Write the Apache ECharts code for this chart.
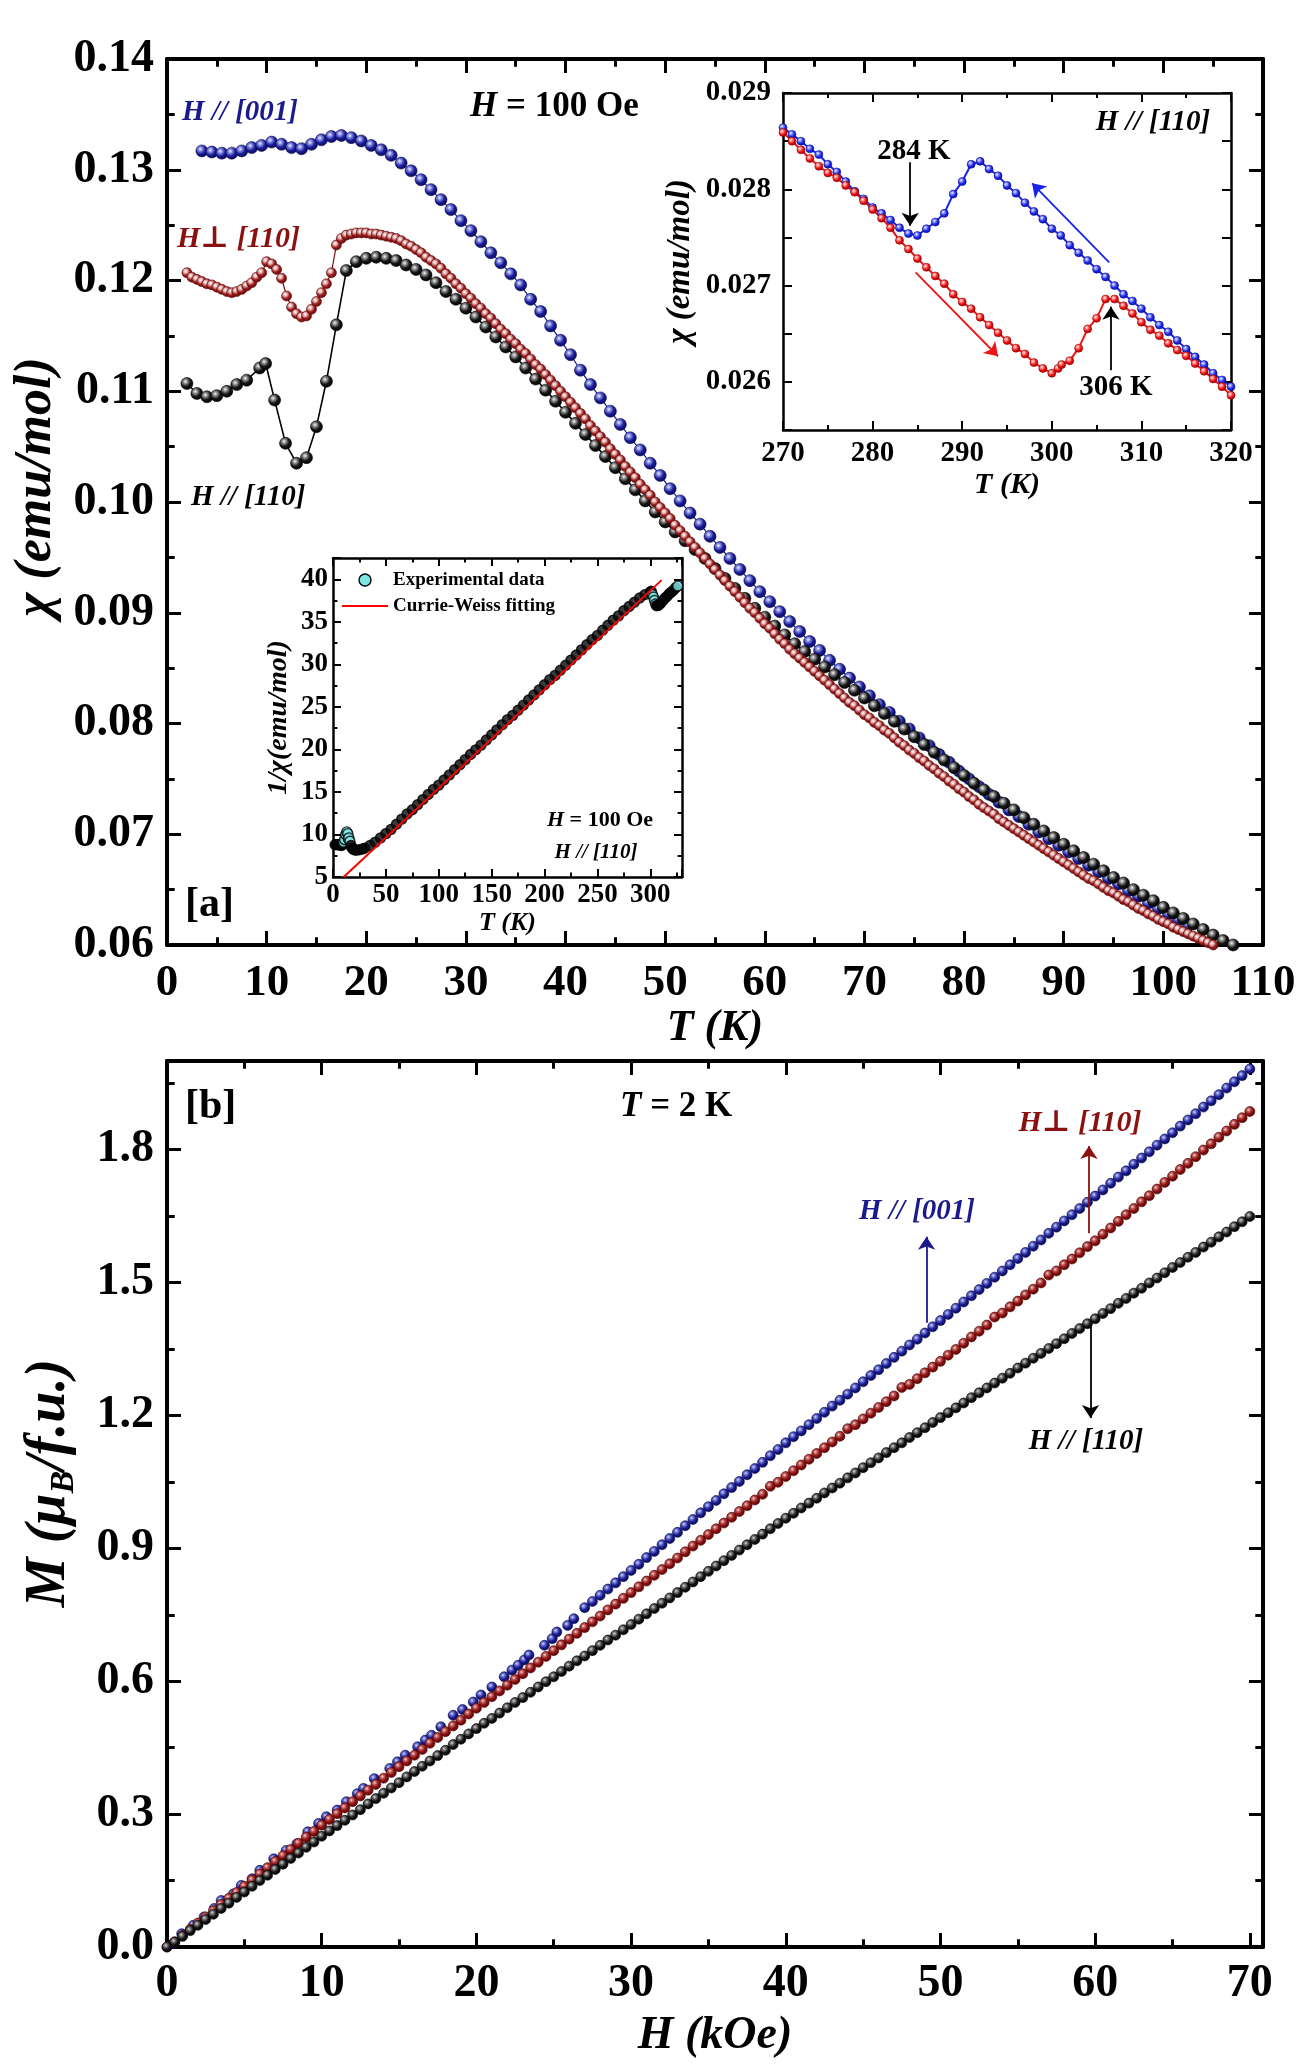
<!DOCTYPE html>
<html>
<head>
    <meta charset="utf-8">
    <script src="https://cdn.jsdelivr.net/npm/echarts@6/dist/echarts.min.js"></script>
    <style>
        html, body { margin: 0; padding: 0; background: #fff; }
    </style>
</head>
<body>
    <div id="main" style="width:1313px;height:2067px;"></div>
</body>
<script type="text/javascript">
    // ---- panel [a]: chi(T), H = 100 Oe ----
    var chiBlue = [[3.5,0.1317],[4.5,0.1316],[5.5,0.1315],[6.5,0.1315],[7.5,0.1317],[8.5,0.1320],[9.5,0.1322],[10.5,0.1325],[11.5,0.1323],[12.5,0.1320],[13.5,0.1319],[14.5,0.1323],[15.5,0.1327],[16.5,0.1330],[17.5,0.1331],[18.5,0.1329],[19.5,0.1326],[20.5,0.1322],[21.5,0.1318],[22.5,0.1313],[23.5,0.1306],[24.5,0.1299],[25.5,0.1291],[26.5,0.1282],[27.5,0.1273],[28.5,0.1264],[29.5,0.1254],[30.5,0.1245],[31.5,0.1235],[32.5,0.1225],[33.5,0.1216],[34.5,0.1206],[35.5,0.1196],[36.5,0.1183],[37.5,0.1172],[38.5,0.1159],[39.5,0.1146],[40.5,0.1133],[41.5,0.1119],[42.5,0.1106],[43.5,0.1094],[44.5,0.1082],[45.5,0.1070],[46.5,0.1058],[47.5,0.1047],[48.5,0.1035],[49.5,0.1024],[50.5,0.1012],[51.5,0.1001],[52.5,0.0990],[53.5,0.0980],[54.5,0.0969],[55.5,0.0959],[56.5,0.0949],[57.5,0.0939],[58.5,0.0929],[59.5,0.0919],[60.5,0.0910],[61.5,0.0901],[62.5,0.0892],[63.5,0.0883],[64.5,0.0874],[65.5,0.0866],[66.5,0.0857],[67.5,0.0849],[68.5,0.0841],[69.5,0.0833],[70.5,0.0825],[71.5,0.0817],[72.5,0.0810],[73.5,0.0802],[74.5,0.0795],[75.5,0.0787],[76.5,0.0780],[77.5,0.0772],[78.5,0.0765],[79.5,0.0757],[80.5,0.0750],[81.5,0.0743],[82.5,0.0736],[83.5,0.0729],[84.5,0.0722],[85.5,0.0716],[86.5,0.0709],[87.5,0.0702],[88.5,0.0696],[89.5,0.0690],[90.5,0.0684],[91.5,0.0678],[92.5,0.0672],[93.5,0.0666],[94.5,0.0660],[95.5,0.0655],[96.5,0.0649],[97.5,0.0644],[98.5,0.0638],[99.5,0.0633],[100.5,0.0628],[101.5,0.0623],[102.5,0.0618]];

    var chiBlack = [[2,0.1107],[3,0.1098],[4,0.1095],[5,0.1096],[6,0.1100],[7,0.1106],[8,0.1110],[9.3,0.1121],[9.9,0.1125],[10.8,0.1092],[11.9,0.1053],[13,0.1035],[14,0.1040],[15,0.1068],[16,0.1109],[17,0.1160],[18,0.1209],[19,0.1217],[20,0.1220],[21,0.1221],[22,0.1220],[23,0.1218],[24,0.1214],[25,0.1210],[26,0.1205],[27,0.1198],[28,0.1190],[29,0.1183],[30,0.1175],[31,0.1167],[32,0.1158],[33,0.1149],[34,0.1140],[35,0.1131],[36,0.1121],[37,0.1111],[38,0.1101],[39,0.1091],[40,0.1081],[41,0.1071],[42,0.1061],[43,0.1051],[44,0.1041],[45,0.1031],[46,0.1021],[47,0.1011],[48,0.1001],[49,0.0991],[50,0.0982],[51,0.0973],[52,0.0965],[53,0.0957],[54,0.0949],[55,0.0940],[56,0.0931],[57,0.0922],[58,0.0913],[59,0.0904],[60,0.0896],[61,0.0888],[62,0.0880],[63,0.0872],[64,0.0865],[65,0.0858],[66,0.0851],[67,0.0844],[68,0.0837],[69,0.0830],[70,0.0823],[71,0.0816],[72,0.0809],[73,0.0802],[74,0.0795],[75,0.0788],[76,0.0781],[77,0.0774],[78,0.0767],[79,0.0760],[80,0.0753],[81,0.0746],[82,0.0740],[83,0.0734],[84,0.0728],[85,0.0722],[86,0.0715],[87,0.0709],[88,0.0703],[89,0.0697],[90,0.0691],[91,0.0685],[92,0.0679],[93,0.0673],[94,0.0667],[95,0.0661],[96,0.0656],[97,0.0650],[98,0.0645],[99,0.0640],[100,0.0634],[101,0.0629],[102,0.0624],[103,0.0619],[104,0.0614],[105,0.0609],[106,0.0604],[107,0.0600]];

    var chiRed = [[2,0.1207],[2.5,0.1203],[3,0.1201],[3.5,0.1199],[4,0.1197],[4.5,0.1196],[5,0.1194],[5.5,0.1192],[6,0.1190],[6.5,0.1189],[7,0.1190],[7.5,0.1192],[8,0.1195],[8.5,0.1198],[9,0.1203],[9.5,0.1207],[10,0.1217],[10.5,0.1215],[11,0.1210],[11.5,0.1202],[12,0.1186],[12.5,0.1176],[13,0.1170],[13.5,0.1167],[14,0.1168],[14.5,0.1174],[15,0.1181],[15.5,0.1189],[16,0.1197],[16.5,0.1207],[17,0.1232],[17.5,0.1238],[18,0.1241],[18.5,0.1242],[19,0.1243],[19.5,0.1243],[20,0.1243],[20.5,0.1242],[21,0.1242],[21.5,0.1241],[22,0.1240],[22.5,0.1239],[23,0.1238],[23.5,0.1236],[24,0.1233],[24.5,0.1231],[25,0.1228],[25.5,0.1225],[26,0.1221],[26.5,0.1218],[27,0.1215],[27.5,0.1211],[28,0.1206],[28.5,0.1202],[29,0.1197],
        [29.5,0.1193],[30,0.1188],[30.5,0.1184],[31,0.1179],[31.5,0.1175],[32,0.1170],[32.5,0.1166],[33,0.1161],[33.5,0.1156],[34,0.1152],[34.5,0.1147],[35,0.1143],[35.5,0.1138],[36,0.1134],[36.5,0.1129],[37,0.1124],[37.5,0.1120],[38,0.1115],[38.5,0.1110],[39,0.1105],[39.5,0.1100],[40,0.1095],[40.5,0.1090],[41,0.1085],[41.5,0.1080],[42,0.1075],[42.5,0.1069],[43,0.1064],[43.5,0.1059],[44,0.1054],[44.5,0.1048],[45,0.1043],[45.5,0.1038],[46,0.1032],[46.5,0.1027],[47,0.1022],[47.5,0.1016],[48,0.1011],[48.5,0.1006],[49,0.1000],[49.5,0.0995],[50,0.0990],[50.5,0.0985],[51,0.0979],[51.5,0.0974],[52,0.0969],[52.5,0.0964],[53,0.0959],[53.5,0.0954],[54,0.0949],[54.5,0.0944],[55,0.0939],[55.5,0.0934],[56,0.0929],[56.5,0.0924],[57,0.0919],[57.5,0.0914],[58,0.0909],[58.5,0.0904],[59,0.0900],[59.5,0.0895],[60,0.0890],[60.5,0.0886],[61,0.0881],[61.5,0.0876],[62,0.0872],[62.5,0.0867],[63,0.0863],[63.5,0.0859],[64,0.0855],[64.5,0.0851],[65,0.0847],[65.5,0.0843],[66,0.0839],[66.5,0.0835],[67,0.0831],[67.5,0.0827],[68,0.0823],[68.5,0.0819],[69,0.0816],[69.5,0.0812],[70,0.0808],[70.5,0.0805],[71,0.0801],[71.5,0.0798],[72,0.0794],[72.5,0.0791],[73,0.0787],[73.5,0.0783],[74,0.0780],[74.5,0.0776],[75,0.0773],[75.5,0.0769],[76,0.0766],[76.5,0.0762],[77,0.0759],[77.5,0.0755],[78,0.0752],[78.5,0.0748],[79,0.0745],[79.5,0.0741],[80,0.0738],[80.5,0.0734],[81,0.0731],[81.5,0.0727],[82,0.0724],[82.5,0.0721],[83,0.0718],[83.5,0.0714],[84,0.0711],[84.5,0.0708],[85,0.0705],[85.5,0.0702],[86,0.0699],[86.5,0.0696],[87,0.0693],[87.5,0.0690],[88,0.0687],[88.5,0.0684],[89,0.0681],[89.5,0.0678],[90,0.0675],[90.5,0.0672],[91,0.0669],[91.5,0.0666],[92,0.0663],[92.5,0.0660],[93,0.0658],[93.5,0.0655],[94,0.0652],[94.5,0.0649],[95,0.0647],[95.5,0.0644],[96,0.0641],[96.5,0.0639],[97,0.0636],[97.5,0.0633],[98,0.0631],[98.5,0.0628],[99,0.0626],[99.5,0.0623],[100,0.0621],[100.5,0.0619],[101,0.0616],[101.5,0.0614],[102,0.0612],[102.5,0.0610],[103,0.0608],[103.5,0.0606],[104,0.0604],[104.5,0.0602],[105,0.0600]];

    // ---- inset: 270-320 K, H // [110] ----
    var insetCool = [[270,0.02864],[271,0.02857],[272,0.02850],[273,0.02842],[274,0.02836],[275,0.02826],[276,0.02818],[277,0.02808],[278,0.02798],[279,0.02790],[280,0.02781],[281,0.02775],[282,0.02768],[283,0.02760],[284,0.02754],[285,0.02752],[286,0.02759],[287,0.02766],[288,0.02775],[289,0.02795],[290,0.02808],[291,0.02826],[292,0.02829],[293,0.02821],[294,0.02814],[295,0.02804],[296,0.02796],[297,0.02786],[298,0.02777],[299,0.02769],[300,0.02759],[301,0.02752],[302,0.02742],[303,0.02734],[304,0.02726],[305,0.02717],[306,0.02709],[307,0.02700],[308,0.02691],[309,0.02684],[310,0.02676],[311,0.02667],[312,0.02659],[313,0.02652],[314,0.02643],[315,0.02634],[316,0.02626],[317,0.02618],[318,0.02609],[319,0.02602],[320,0.02595]];
    var insetWarm = [[270,0.02859],[271,0.02850],[272,0.02841],[273,0.02832],[274,0.02824],[275,0.02817],[276,0.02812],[277,0.02804],[278,0.02797],[279,0.02788],[280,0.02779],[281,0.02770],[282,0.02760],[283,0.02747],[284,0.02738],[285,0.02728],[286,0.02719],[287,0.02710],[288,0.02702],[289,0.02691],[290,0.02683],[291,0.02676],[292,0.02667],[293,0.02659],[294,0.02651],[295,0.02643],[296,0.02635],[297,0.02629],[298,0.02620],[299,0.02614],[300,0.02609],[300.7,0.02614],[301.1,0.02618],[302,0.02622],[303,0.02635],[304,0.02655],[305,0.02666],[306,0.02686],[307,0.02686],[308,0.02679],[309,0.02671],[310,0.02662],[311,0.02654],[312,0.02648],[313,0.02640],[314,0.02633],[315,0.02627],[316,0.02619],[317,0.02611],[318,0.02603],[319,0.02595],[320,0.02586]];

    // ---- inset: 1/chi vs T ----
    var invChi = [[2,8.8],[3,8.8],[4,8.8],[5,8.8],[6,8.8],[7,8.75],[8,8.7],[9,8.8],[9.9,9.1],[11,9.4],[12,10.0],[13,10.3],[14,10.1],[14.5,9.5],[15,9.6],[16,9.2],[17,8.7],[18,8.4],[19,8.3],[20,8.2],[22,8.15],[25,8.2],[28,8.3],[30,8.4],[35,8.7],[40,9.1],[45,9.6],[50,10.1],[55,10.6],[60,11.2],[65,11.8],[70,12.4],[75,12.9],[80,13.5],[85,14.1],[90,14.7],[95,15.3],[100,15.8],[105,16.4],[110,17.0],[115,17.6],[120,18.2],[125,18.8],[130,19.4],[135,19.95],[140,20.5],[145,21.1],[150,21.7],[155,22.3],[160,22.9],[165,23.5],[170,24.0],[175,24.6],[180,25.2],[185,25.8],[190,26.4],[195,27.0],[200,27.6],[205,28.2],[210,28.7],[215,29.3],[220,29.9],[225,30.5],[230,31.1],[235,31.7],[240,32.3],[245,32.9],[250,33.4],[255,34.0],[260,34.6],[265,35.2],[270,35.7],[275,36.3],[280,36.8],[285,37.3],[290,37.8],[295,38.2],[300,38.5],[301,38.6],[302,38.2],[303,37.9],[304,37.5],[305,37.1],[306,36.9],[307,36.9],[308,37.0],[309,37.1],[310,37.2],[312,37.5],[314,37.8],[316,38.0],[318,38.3],[320,38.5],[322,38.7],[324,39.0],[326,39.2]];
    var cwFit = [[10.1,5],[310.7,39.9]];

    // ---- panel [b]: M(H), T = 2 K ----
    var fieldH = [0,0.5,1,1.5,2,2.5,3,3.5,4,4.5,5,5.5,6,6.5,7,7.5,8,8.5,9,9.5,10,10.5,11,11.5,12,12.5,13,13.5,14,14.5,15,15.5,16,16.5,17,17.5,18,18.5,19,19.5,20,20.5,21,21.5,22,22.5,23,23.5,24,24.5,25,25.5,26,26.5,27,27.5,28,28.5,29,29.5,30,30.5,31,31.5,32,32.5,33,33.5,34,34.5,35,35.5,36,36.5,37,37.5,38,38.5,39,39.5,40,40.5,41,41.5,42,42.5,43,43.5,44,44.5,45,45.5,46,46.5,47,47.5,48,48.5,49,49.5,50,50.5,51,51.5,52,52.5,53,53.5,54,54.5,55,55.5,56,56.5,57,57.5,58,58.5,59,59.5,60,60.5,61,61.5,62,62.5,63,63.5,64,64.5,65,65.5,66,66.5,67,67.5,68,68.5,69,69.5,70];
    var magPerp = [0.000,0.012,0.026,0.040,0.054,0.068,0.082,0.096,0.110,0.123,0.137,0.151,0.165,0.179,0.193,0.206,0.220,0.234,0.248,0.261,0.275,0.288,0.301,0.314,0.328,0.341,0.354,0.367,0.381,0.394,0.407,0.420,0.433,0.446,0.460,0.473,0.486,0.499,0.512,0.526,0.539,0.552,0.565,0.578,0.591,0.604,0.617,0.630,0.643,0.656,0.669,0.682,0.695,0.708,0.721,0.734,0.747,0.761,0.774,0.787,0.800,0.813,0.826,0.839,0.852,0.865,0.878,0.892,0.905,0.918,0.931,0.944,0.957,0.970,0.983,0.996,1.009,1.022,1.040,1.049,1.062,1.075,1.088,1.101,1.114,1.127,1.140,1.153,1.170,1.179,1.192,1.205,1.218,1.231,1.244,1.263,1.270,1.283,1.296,1.309,1.322,1.336,1.349,1.363,1.377,1.390,1.404,1.422,1.431,1.445,1.458,1.472,1.485,1.499,1.517,1.526,1.540,1.553,1.567,1.581,1.594,1.609,1.623,1.638,1.653,1.667,1.682,1.696,1.711,1.726,1.740,1.755,1.769,1.784,1.799,1.813,1.828,1.842,1.857,1.872,1.886];
    var mag110 = [0.000,0.011,0.024,0.037,0.049,0.062,0.074,0.087,0.099,0.112,0.124,0.137,0.150,0.162,0.175,0.187,0.200,0.212,0.225,0.237,0.250,0.262,0.274,0.286,0.298,0.310,0.323,0.335,0.347,0.359,0.371,0.384,0.396,0.408,0.420,0.432,0.444,0.457,0.469,0.481,0.493,0.505,0.516,0.528,0.540,0.552,0.563,0.575,0.587,0.599,0.610,0.622,0.634,0.646,0.657,0.669,0.681,0.693,0.704,0.716,0.728,0.740,0.752,0.764,0.776,0.788,0.800,0.812,0.824,0.836,0.848,0.860,0.872,0.884,0.896,0.908,0.920,0.932,0.944,0.956,0.968,0.979,0.991,1.002,1.013,1.025,1.036,1.047,1.059,1.070,1.082,1.093,1.104,1.116,1.127,1.138,1.150,1.161,1.172,1.184,1.195,1.206,1.217,1.228,1.240,1.251,1.262,1.273,1.284,1.295,1.307,1.318,1.329,1.340,1.351,1.362,1.373,1.385,1.396,1.407,1.418,1.430,1.441,1.453,1.464,1.476,1.487,1.499,1.510,1.522,1.534,1.545,1.557,1.568,1.580,1.591,1.603,1.614,1.626,1.637,1.649];
    var field001 = [0.4,0.95,1.7,2.4,3.05,3.5,4.3,4.8,5.5,6,6.9,7.7,8.4,9.1,9.8,10.3,11,11.6,12.3,12.7,13.4,14.4,14.9,15.4,16.2,16.7,17.1,17.7,18.5,19.1,19.8,20.3,21,21.8,22.3,22.7,23.1,23.4,24.4,24.9,25.2,25.9,26.3,27,27.5,28,28.5,29,29.5,30,30.5,31,31.5,32,32.5,33,33.5,34,34.5,35,35.5,36,36.5,37,37.5,38,38.5,39,39.5,40,40.5,41,41.5,42,42.5,43,43.5,44,44.5,45,45.5,46,46.5,47,47.5,48,48.5,49,49.5,50,50.5,51,51.5,52,52.5,53,53.5,54,54.5,55,55.5,56,56.5,57,57.5,58,58.5,59,59.5,60,60.5,61,61.5,62,62.5,63,63.5,64,64.5,65,65.5,66,66.5,67,67.5,68,68.5,69,69.5,70];
    var mag001 = [0.008,0.030,0.049,0.068,0.087,0.105,0.120,0.139,0.154,0.173,0.199,0.218,0.233,0.260,0.279,0.294,0.309,0.328,0.346,0.358,0.380,0.403,0.418,0.433,0.452,0.467,0.478,0.497,0.523,0.536,0.553,0.569,0.587,0.610,0.625,0.636,0.648,0.659,0.681,0.696,0.711,0.726,0.741,0.766,0.780,0.794,0.808,0.822,0.836,0.850,0.864,0.879,0.893,0.908,0.922,0.936,0.951,0.965,0.980,0.994,1.008,1.023,1.037,1.051,1.066,1.080,1.094,1.109,1.123,1.138,1.152,1.165,1.179,1.193,1.207,1.221,1.234,1.248,1.262,1.276,1.290,1.303,1.317,1.331,1.345,1.359,1.372,1.386,1.400,1.414,1.428,1.442,1.456,1.470,1.484,1.498,1.512,1.526,1.540,1.554,1.568,1.582,1.596,1.611,1.625,1.639,1.653,1.667,1.681,1.695,1.709,1.724,1.738,1.752,1.767,1.781,1.795,1.810,1.824,1.838,1.853,1.867,1.881,1.896,1.910,1.924,1.939,1.953,1.967,1.982];

    var FONT = '"Liberation Serif", "DejaVu Serif", serif';

    function zip(xs, ys) {
        return xs.map(function (x, i) { return [x, ys[i]]; });
    }

    // shaded ball look for the symbols
    function ball(c0, c1, c2, c3) {
        return {
            type: 'radial', x: 0.38, y: 0.35, r: 0.68,
            colorStops: [
                { offset: 0, color: c0 }, { offset: 0.25, color: c1 },
                { offset: 0.58, color: c2 }, { offset: 1, color: c3 }
            ]
        };
    }
    var navyBall = ball('#eef0ff', '#8088e0', '#1c1c98', '#08085a');
    var maroonBall = ball('#ffffff', '#e8b4b4', '#9a1e1e', '#640606');
    var blackBall = ball('#f4f4f4', '#8c8c8c', '#161616', '#000000');
    var blueBall = ball('#eef2ff', '#8d96ff', '#1f2ae8', '#0c12a8');
    var redBall = ball('#fff0f0', '#ff8c8c', '#ee1414', '#a40000');
    var navySmall = ball('#d8dcff', '#6a70d0', '#1a1a90', '#08084a');
    var maroonSmall = ball('#f8d8d8', '#c05c5c', '#8b1010', '#560404');
    var blackSmall = ball('#d8d8d8', '#707070', '#141414', '#000000');

    function makeAxis(o) {
        var a = {
            type: 'value', gridIndex: o.grid, position: o.pos,
            min: o.min, max: o.max, interval: o.interval,
            axisLine: { show: true, onZero: false, lineStyle: { color: '#000', width: o.lw } },
            axisTick: { show: true, inside: true, length: o.tick, lineStyle: { color: '#000', width: o.tw } },
            minorTick: { show: !!o.minor, splitNumber: o.minor || 5, length: o.tick * 0.55, lineStyle: { color: '#000', width: o.tw } },
            splitLine: { show: false },
            axisLabel: { show: false }
        };
        if (o.fs) {
            a.axisLabel = {
                show: true, margin: o.margin, color: '#000', fontFamily: FONT,
                fontWeight: 'bold', fontSize: o.fs, formatter: o.fmt
            };
        }
        if (o.name) {
            a.name = o.name;
            a.nameLocation = 'middle';
            a.nameGap = o.nameGap;
            if (o.nameRotate) a.nameRotate = o.nameRotate;
            a.nameTextStyle = o.nameStyle;
        }
        return a;
    }

    function italicName(size, pad) {
        var s = { fontFamily: FONT, fontWeight: 'bold', fontStyle: 'italic', fontSize: size, color: '#000' };
        if (pad) s.padding = pad;
        return s;
    }

    var xAxes = [
        makeAxis({ grid: 0, pos: 'bottom', min: 0, max: 110, interval: 10, minor: 2, lw: 4, tw: 3, tick: 14,
            fs: 45, margin: 16, fmt: function (v) { return v; },
            name: 'T (K)', nameGap: 62, nameStyle: italicName(44) }),
        makeAxis({ grid: 0, pos: 'top', min: 0, max: 110, interval: 10, minor: 2, lw: 4, tw: 3, tick: 14 }),
        makeAxis({ grid: 1, pos: 'bottom', min: 270, max: 320, interval: 10, minor: 2, lw: 2.5, tw: 2, tick: 9,
            fs: 29, margin: 9, fmt: function (v) { return v; },
            name: 'T (K)', nameGap: 40, nameStyle: italicName(30) }),
        makeAxis({ grid: 1, pos: 'top', min: 270, max: 320, interval: 10, minor: 2, lw: 2.5, tw: 2, tick: 9 }),
        makeAxis({ grid: 2, pos: 'bottom', min: 0, max: 330, interval: 50, minor: 2, lw: 2.5, tw: 2, tick: 8,
            fs: 27, margin: 5, fmt: function (v) { return v <= 300 ? v : ''; },
            name: 'T (K)', nameGap: 30, nameStyle: italicName(26) }),
        makeAxis({ grid: 2, pos: 'top', min: 0, max: 330, interval: 50, minor: 2, lw: 2.5, tw: 2, tick: 8 }),
        makeAxis({ grid: 3, pos: 'bottom', min: 0, max: 70.85, interval: 10, minor: 2, lw: 4, tw: 3, tick: 14,
            fs: 46, margin: 14, fmt: function (v) { return v <= 70 ? v : ''; },
            name: 'H (kOe)', nameGap: 66, nameStyle: italicName(46) }),
        makeAxis({ grid: 3, pos: 'top', min: 0, max: 70.85, interval: 10, minor: 2, lw: 4, tw: 3, tick: 14 })
    ];

    var yAxes = [
        makeAxis({ grid: 0, pos: 'left', min: 0.06, max: 0.14, interval: 0.01, minor: 2, lw: 4, tw: 3, tick: 14,
            fs: 46, margin: 13, fmt: function (v) { return v.toFixed(2); },
            name: 'χ (emu/mol)', nameGap: 100, nameRotate: 90, nameStyle: italicName(52, [0, 0, 0, 30]) }),
        makeAxis({ grid: 0, pos: 'right', min: 0.06, max: 0.14, interval: 0.01, minor: 2, lw: 4, tw: 3, tick: 14 }),
        makeAxis({ grid: 1, pos: 'left', min: 0.0255, max: 0.029, interval: 0.0005, lw: 2.5, tw: 2, tick: 9,
            fs: 29, margin: 12, fmt: function (v) {
                var k = v * 1000;
                return (Math.abs(k - Math.round(k)) < 1e-6 && v > 0.02595) ? v.toFixed(3) : '';
            },
            name: 'χ (emu/mol)', nameGap: 86, nameRotate: 90, nameStyle: italicName(33) }),
        makeAxis({ grid: 1, pos: 'right', min: 0.0255, max: 0.029, interval: 0.0005, lw: 2.5, tw: 2, tick: 9 }),
        makeAxis({ grid: 2, pos: 'left', min: 5, max: 42.5, interval: 5, minor: 2, lw: 2.5, tw: 2, tick: 8,
            fs: 27, margin: 5, fmt: function (v) { return v <= 40 ? v : ''; },
            name: '1/χ(emu/mol)', nameGap: 40, nameRotate: 90, nameStyle: italicName(28) }),
        makeAxis({ grid: 2, pos: 'right', min: 5, max: 42.5, interval: 5, minor: 2, lw: 2.5, tw: 2, tick: 8 }),
        makeAxis({ grid: 3, pos: 'left', min: 0, max: 2.0, interval: 0.3, minor: 2, lw: 4, tw: 3, tick: 14,
            fs: 46, margin: 13, fmt: function (v) { return v <= 1.8001 ? v.toFixed(1) : ''; },
            name: '{t|M (μ}{s|B}{t|/f.u.)}', nameGap: 86, nameRotate: 90,
            nameStyle: {
                color: '#000',
                padding: [0, 0, 0, 42],
                rich: {
                    t: { fontFamily: FONT, fontWeight: 'bold', fontStyle: 'italic', fontSize: 56, lineHeight: 62, color: '#000' },
                    s: { fontFamily: FONT, fontWeight: 'bold', fontStyle: 'italic', fontSize: 34, lineHeight: 32, verticalAlign: 'bottom', color: '#000' }
                }
            } }),
        makeAxis({ grid: 3, pos: 'right', min: 0, max: 2.0, interval: 0.3, minor: 2, lw: 4, tw: 3, tick: 14 })
    ];

    function dots(name, data, xi, fill, edge, size, lineColor, lineW) {
        return {
            name: name, type: 'line', xAxisIndex: xi, yAxisIndex: xi,
            data: data, symbol: 'circle', symbolSize: size,
            itemStyle: { color: fill, borderColor: edge, borderWidth: 0.6 },
            lineStyle: { color: lineColor, width: lineW || 0, opacity: lineW ? 1 : 0 },
            emphasis: { disabled: true }, silent: true
        };
    }

    function arrow(from, to, color) {
        return [
            { coord: from, lineStyle: { color: color, width: 1.8, type: 'solid' } },
            { coord: to }
        ];
    }

    var markArrows = function (list) {
        return {
            silent: true, symbol: ['none', 'arrow'], symbolSize: 13,
            label: { show: false }, emphasis: { disabled: true },
            data: list
        };
    };

    var series = [
        dots('H//[001]', chiBlue, 0, navyBall, '#08084a', 12, '#1a1a8c', 1.2),
        dots('H//[110]', chiBlack, 0, blackBall, '#000', 12, '#000', 1.6),
        dots('H⊥[110]', chiRed, 0, maroonBall, '#5a0606', 10, '#7a0c0c', 1.2),
        (function () {
            var s = dots('cooling', insetCool, 2, blueBall, '#0a0a90', 8, '#1a22ee', 2);
            s.markLine = markArrows([
                arrow([284.2, 0.02828], [284.2, 0.02762], '#000'),
                arrow([306.4, 0.027241], [297.8, 0.028062], '#1a22ee')
            ]);
            return s;
        })(),
        (function () {
            var s = dots('warming', insetWarm, 2, redBall, '#900000', 8, '#ee1414', 2);
            s.markLine = markArrows([
                arrow([306.6, 0.02612], [306.6, 0.02678], '#000'),
                arrow([284.8, 0.027138], [294.0, 0.026266], '#ee1414')
            ]);
            return s;
        })(),
        {
            name: 'Experimental data', type: 'scatter', xAxisIndex: 4, yAxisIndex: 4,
            data: invChi, symbol: 'circle', symbolSize: 10, silent: true, z: 2,
            itemStyle: {
                borderColor: '#000', borderWidth: 1.4,
                color: function (p) {
                    var t = p.data[0];
                    var light = (t >= 9.5 && t <= 16.5) || (t >= 302 && t <= 305) || t >= 325;
                    return light ? '#7fe6e6' : '#0a0a0a';
                }
            }
        },
        {
            name: 'Currie-Weiss fitting', type: 'line', xAxisIndex: 4, yAxisIndex: 4,
            data: cwFit, symbol: 'none', lineStyle: { color: '#ff0000', width: 2 }, silent: true, z: 5
        },
        (function () {
            var s = dots('M H//[001]', zip(field001, mag001), 6, navySmall, '#08084a', 10, '#1a1a8c', 0);
            s.markLine = markArrows([arrow([49.1, 1.409], [49.1, 1.603], '#1a1a8c')]);
            return s;
        })(),
        (function () {
            var s = dots('M H⊥[110]', zip(fieldH, magPerp), 6, maroonSmall, '#4a0202', 10, '#7a0c0c', 0);
            s.markLine = markArrows([arrow([59.6, 1.611], [59.6, 1.808], '#8b1010')]);
            return s;
        })(),
        (function () {
            var s = dots('M H//[110]', zip(fieldH, mag110), 6, blackSmall, '#000', 10, '#000', 0);
            s.markLine = markArrows([arrow([59.7, 1.400], [59.7, 1.194], '#000')]);
            return s;
        })()
    ];

    function label(text, x, y, size, color, italic, align) {
        return {
            type: 'text', x: x, y: y, z: 100, silent: true,
            style: {
                text: text, fill: color, fontFamily: FONT, fontWeight: 'bold',
                fontStyle: italic ? 'italic' : 'normal', fontSize: size,
                align: align || 'left', verticalAlign: 'middle'
            }
        };
    }

    function richLabel(text, x, y, size, align) {
        var el = label(text, x, y, size, '#000', false, align);
        el.style.rich = {
            i: { fontFamily: FONT, fontWeight: 'bold', fontStyle: 'italic', fontSize: size, fill: '#000' }
        };
        return el;
    }

    var graphics = [
        // panel [a]
        label('H // [001]', 182, 113, 29, '#1a1a8c', true),
        label('H⊥ [110]', 177, 239, 30, '#8b1010', true),
        label('H // [110]', 191, 498, 29, '#000', true),
        richLabel('{i|H} = 100 Oe', 470, 107, 35),
        label('[a]', 185, 905, 42, '#000', false),
        // inset 270-320 K
        label('284 K', 914, 152, 29, '#000', false, 'center'),
        label('306 K', 1116, 388, 29, '#000', false, 'center'),
        label('H // [110]', 1153, 123, 29, '#000', true, 'center'),
        // inset 1/chi legend and notes
        { type: 'circle', z: 100, silent: true, shape: { cx: 365, cy: 580, r: 6 }, style: { fill: '#7fe6e6', stroke: '#000', lineWidth: 1.4 } },
        label('Experimental data', 393, 580, 19, '#000', false),
        { type: 'line', z: 100, silent: true, shape: { x1: 342, y1: 606, x2: 388, y2: 606 }, style: { stroke: '#ff0000', lineWidth: 2 } },
        label('Currie-Weiss fitting', 393, 606, 19, '#000', false),
        richLabel('{i|H} = 100 Oe', 600, 820, 22, 'center'),
        label('H // [110]', 596, 853, 21, '#000', true, 'center'),
        // panel [b]
        label('[b]', 185, 1107, 42, '#000', false),
        richLabel('{i|T} = 2 K', 620, 1107, 35),
        label('H⊥ [110]', 1080, 1123, 30, '#8b1010', true, 'center'),
        label('H // [001]', 917, 1212, 29, '#1a1a8c', true, 'center'),
        label('H // [110]', 1086, 1442, 29, '#000', true, 'center')
    ];

    var myChart = echarts.init(document.getElementById('main'));
    myChart.setOption({
        backgroundColor: '#fff',
        animation: false,
        grid: [
            { left: 167, top: 59, width: 1096, height: 886 },
            { left: 783, top: 93, width: 448, height: 337 },
            { left: 333, top: 558, width: 349, height: 319 },
            { left: 167, top: 1061, width: 1096, height: 886 }
        ],
        xAxis: xAxes,
        yAxis: yAxes,
        series: series,
        graphic: graphics
    });
</script>
</html>
